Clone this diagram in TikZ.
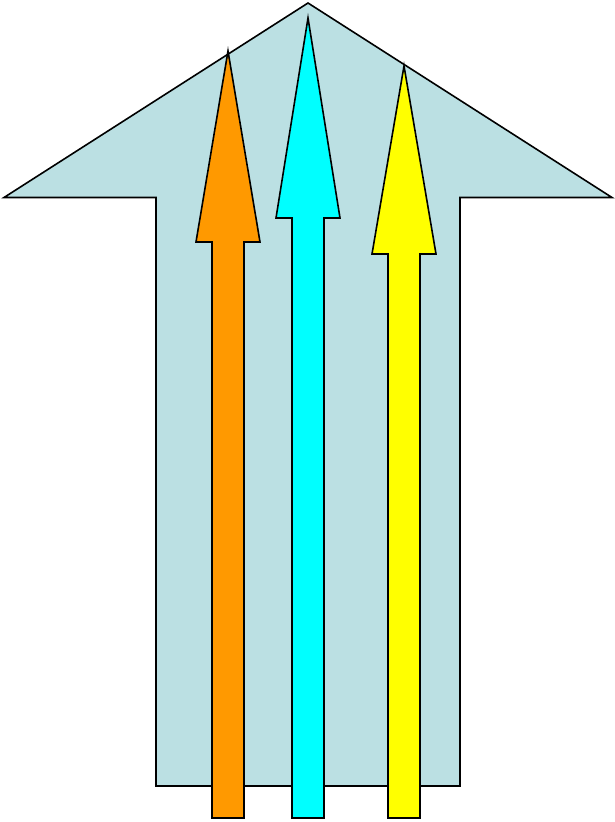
\documentclass[tikz,border=0pt]{standalone}
\definecolor{bigblue}{RGB}{187,224,227}
\definecolor{arrorange}{RGB}{255,153,0}
\definecolor{arrcyan}{RGB}{0,255,255}
\definecolor{arryellow}{RGB}{255,255,0}
\tikzset{shapeline/.style={draw=black,line width=1.6pt,line join=miter}}
\begin{document}
\begin{tikzpicture}[x=1pt,y=-1pt]
\useasboundingbox (0,0) rectangle (615,822);
% big arrow
\path[shapeline,fill=bigblue] (308,3) -- (612,197.5) -- (460,197.5) -- (460,786) -- (156,786) -- (156,197.5) -- (4,197.5) -- cycle;
% orange arrow
\path[shapeline,fill=arrorange] (228,51) -- (260,242) -- (244,242) -- (244,818) -- (212,818) -- (212,242) -- (196,242) -- cycle;
% cyan arrow
\path[shapeline,fill=arrcyan] (308,18) -- (340,218) -- (324,218) -- (324,818) -- (292,818) -- (292,218) -- (276,218) -- cycle;
% yellow arrow
\path[shapeline,fill=arryellow] (404,66) -- (436,254) -- (420,254) -- (420,818) -- (388,818) -- (388,254) -- (372,254) -- cycle;
\end{tikzpicture}
\end{document}
